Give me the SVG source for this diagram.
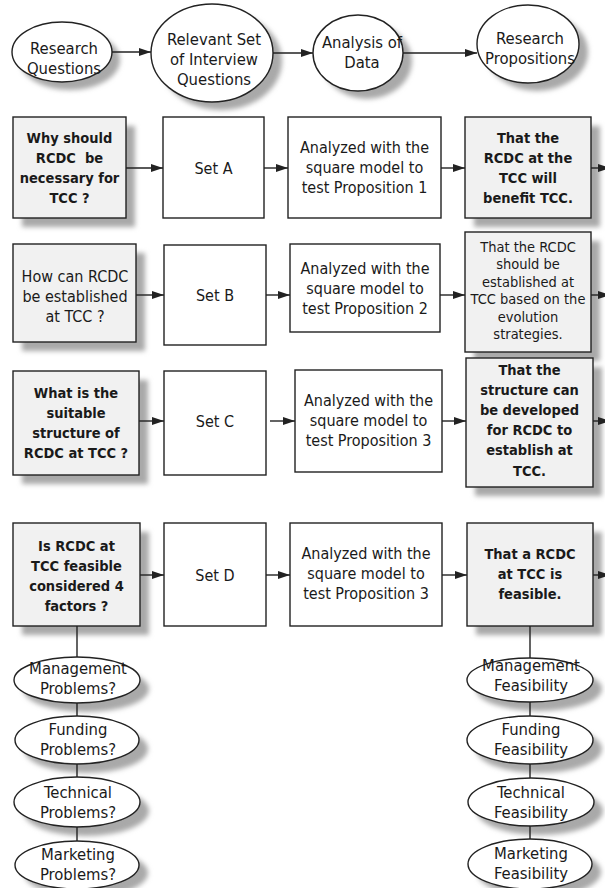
<svg xmlns="http://www.w3.org/2000/svg" width="605" height="888" viewBox="0 0 605 888">
  <style>
    .box { fill: #ffffff; stroke: #222222; stroke-width: 1.4; }
    .boxg { fill: #f1f1f1; stroke: #222222; stroke-width: 1.4; }
    .ell { fill: #ffffff; stroke: #222222; stroke-width: 1.4; }
    .sh { fill: #a9a9a9; }
    .conn { stroke: #222222; stroke-width: 1.4; fill: none; }
    .arr { marker-end: url(#head); }
    text { font-family: "DejaVu Sans Condensed", "DejaVu Sans", "Liberation Sans", sans-serif; font-stretch: condensed; fill: #1a1a1a; text-anchor: middle; }
    .t { font-size: 16px; }
    .b { font-size: 14.5px; font-weight: bold; }
    .h { font-size: 16.5px; }
    .s { font-size: 14.5px; }
  </style>
  <defs>
    <filter id="soft" x="-30%" y="-30%" width="160%" height="160%">
      <feGaussianBlur stdDeviation="2.6"/>
    </filter>
    <marker id="head" markerUnits="userSpaceOnUse" markerWidth="13" markerHeight="9" refX="12" refY="4" orient="auto">
      <path d="M0,0 L12,4 L0,8 z" fill="#222222"/>
    </marker>
  </defs>

  <rect width="605" height="888" fill="#ffffff"/>

  <!-- drop shadows behind the shaded nodes -->
  <g id="shadows" filter="url(#soft)">
    <ellipse class="sh" cx="70" cy="60" rx="50" ry="30"/>
    <ellipse class="sh" cx="221" cy="61" rx="61" ry="49"/>
    <ellipse class="sh" cx="367" cy="61" rx="45" ry="38"/>
    <ellipse class="sh" cx="537" cy="52" rx="51" ry="39"/>
    <rect class="sh" x="22" y="126" width="113" height="101"/>
    <rect class="sh" x="474" y="126" width="126" height="101"/>
    <rect class="sh" x="22" y="253" width="123" height="98"/>
    <rect class="sh" x="474" y="241" width="126" height="120"/>
    <rect class="sh" x="22" y="380" width="126" height="104"/>
    <rect class="sh" x="475" y="367" width="127" height="129"/>
    <rect class="sh" x="22" y="532" width="127" height="103"/>
    <rect class="sh" x="476" y="532" width="126" height="103"/>
    <ellipse class="sh" cx="86" cy="689" rx="63" ry="23"/>
    <ellipse class="sh" cx="86" cy="749" rx="62" ry="24"/>
    <ellipse class="sh" cx="86" cy="811" rx="63" ry="25"/>
    <ellipse class="sh" cx="86" cy="873" rx="62" ry="24"/>
    <ellipse class="sh" cx="539" cy="689" rx="63" ry="22"/>
    <ellipse class="sh" cx="539" cy="749" rx="63" ry="24"/>
    <ellipse class="sh" cx="540" cy="811" rx="63" ry="24"/>
    <ellipse class="sh" cx="539" cy="872" rx="62" ry="25"/>
  </g>

  <!-- header process ellipses -->
  <g id="hdr-research-questions">
    <ellipse class="ell" cx="62" cy="52" rx="50" ry="30"/>
    <text class="h" x="64" y="54">Research</text>
    <text class="h" x="64" y="74">Questions</text>
  </g>
  <g id="hdr-interview-questions">
    <ellipse class="ell" cx="212" cy="53" rx="61" ry="49"/>
    <text class="h" x="214" y="45">Relevant Set</text>
    <text class="h" x="214" y="65">of Interview</text>
    <text class="h" x="214" y="85">Questions</text>
  </g>
  <g id="hdr-analysis">
    <ellipse class="ell" cx="358" cy="53" rx="45" ry="38"/>
    <text class="h" x="362" y="48">Analysis of</text>
    <text class="h" x="362" y="68">Data</text>
  </g>
  <g id="hdr-propositions">
    <ellipse class="ell" cx="528" cy="44" rx="51" ry="39"/>
    <text class="h" x="530" y="44">Research</text>
    <text class="h" x="530" y="64">Propositions</text>
  </g>

  <!-- row A -->
  <g id="q-a">
    <rect class="boxg" x="13" y="117" width="113" height="101"/>
    <text class="b" x="69.5" y="143">Why should</text>
    <text class="b" x="69.5" y="163" xml:space="preserve">RCDC  be</text>
    <text class="b" x="69.5" y="183">necessary for</text>
    <text class="b" x="69.5" y="203">TCC ?</text>
  </g>
  <g id="set-a">
    <rect class="box" x="163" y="117" width="101" height="101"/>
    <text class="t" x="213.5" y="174">Set A</text>
  </g>
  <g id="analysis-a">
    <rect class="box" x="288" y="117" width="153" height="101"/>
    <text class="t" x="364.5" y="153">Analyzed with the</text>
    <text class="t" x="364.5" y="173">square model to</text>
    <text class="t" x="364.5" y="193">test Proposition 1</text>
  </g>
  <g id="prop-a">
    <rect class="boxg" x="465" y="117" width="126" height="101"/>
    <text class="b" x="528" y="143">That the</text>
    <text class="b" x="528" y="163">RCDC at the</text>
    <text class="b" x="528" y="183">TCC will</text>
    <text class="b" x="528" y="203">benefit TCC.</text>
  </g>

  <!-- row B -->
  <g id="q-b">
    <rect class="boxg" x="13" y="244" width="123" height="98"/>
    <text class="t" x="75" y="282">How can RCDC</text>
    <text class="t" x="75" y="302">be established</text>
    <text class="t" x="75" y="322">at TCC ?</text>
  </g>
  <g id="set-b">
    <rect class="box" x="164" y="245" width="102" height="100"/>
    <text class="t" x="215" y="301">Set B</text>
  </g>
  <g id="analysis-b">
    <rect class="box" x="290" y="244" width="150" height="88"/>
    <text class="t" x="365" y="274">Analyzed with the</text>
    <text class="t" x="365" y="294">square model to</text>
    <text class="t" x="365" y="314">test Proposition 2</text>
  </g>
  <g id="prop-b">
    <rect class="boxg" x="465" y="232" width="126" height="120"/>
    <text class="s" x="528" y="252">That the RCDC</text>
    <text class="s" x="528" y="269">should be</text>
    <text class="s" x="528" y="287">established at</text>
    <text class="s" x="528" y="304">TCC based on the</text>
    <text class="s" x="528" y="322">evolution</text>
    <text class="s" x="528" y="339">strategies.</text>
  </g>

  <!-- row C -->
  <g id="q-c">
    <rect class="boxg" x="13" y="371" width="126" height="104"/>
    <text class="b" x="76" y="398">What is the</text>
    <text class="b" x="76" y="418">suitable</text>
    <text class="b" x="76" y="438">structure of</text>
    <text class="b" x="76" y="458">RCDC at TCC ?</text>
  </g>
  <g id="set-c">
    <rect class="box" x="164" y="371" width="102" height="104"/>
    <text class="t" x="215" y="427">Set C</text>
  </g>
  <g id="analysis-c">
    <rect class="box" x="295" y="370" width="147" height="102"/>
    <text class="t" x="368.5" y="406">Analyzed with the</text>
    <text class="t" x="368.5" y="426">square model to</text>
    <text class="t" x="368.5" y="446">test Proposition 3</text>
  </g>
  <g id="prop-c">
    <rect class="boxg" x="466" y="358" width="127" height="129"/>
    <text class="b" x="529.5" y="375">That the</text>
    <text class="b" x="529.5" y="395">structure can</text>
    <text class="b" x="529.5" y="415">be developed</text>
    <text class="b" x="529.5" y="435">for RCDC to</text>
    <text class="b" x="529.5" y="455">establish at</text>
    <text class="b" x="529.5" y="476">TCC.</text>
  </g>

  <!-- row D -->
  <g id="q-d">
    <rect class="boxg" x="13" y="523" width="127" height="103"/>
    <text class="b" x="76.5" y="551">Is RCDC at</text>
    <text class="b" x="76.5" y="571">TCC feasible</text>
    <text class="b" x="76.5" y="591">considered 4</text>
    <text class="b" x="76.5" y="611">factors ?</text>
  </g>
  <g id="set-d">
    <rect class="box" x="164" y="523" width="102" height="103"/>
    <text class="t" x="215" y="581">Set D</text>
  </g>
  <g id="analysis-d">
    <rect class="box" x="290" y="523" width="152" height="103"/>
    <text class="t" x="366" y="559">Analyzed with the</text>
    <text class="t" x="366" y="579">square model to</text>
    <text class="t" x="366" y="599">test Proposition 3</text>
  </g>
  <g id="prop-d">
    <rect class="boxg" x="467" y="523" width="126" height="103"/>
    <text class="b" x="530" y="559">That a RCDC</text>
    <text class="b" x="530" y="579">at TCC is</text>
    <text class="b" x="530" y="599">feasible.</text>
  </g>

  <!-- connectors -->
  <g id="connectors">
    <line class="conn arr" x1="112" y1="52" x2="151" y2="52"/>
    <line class="conn arr" x1="273" y1="53" x2="313" y2="53"/>
    <line class="conn arr" x1="403" y1="53" x2="477" y2="53"/>

    <line class="conn arr" x1="126" y1="168" x2="163" y2="168"/>
    <line class="conn arr" x1="264" y1="168" x2="288" y2="168"/>
    <line class="conn arr" x1="441" y1="168" x2="465" y2="168"/>
    <line class="conn arr" x1="591" y1="168" x2="610" y2="168"/>

    <line class="conn arr" x1="136" y1="295" x2="164" y2="295"/>
    <line class="conn arr" x1="266" y1="295" x2="290" y2="295"/>
    <line class="conn arr" x1="440" y1="295" x2="465" y2="295"/>
    <line class="conn arr" x1="591" y1="295" x2="610" y2="295"/>

    <line class="conn arr" x1="139" y1="421" x2="164" y2="421"/>
    <line class="conn arr" x1="270" y1="421" x2="295" y2="421"/>
    <line class="conn arr" x1="442" y1="421" x2="466" y2="421"/>
    <line class="conn arr" x1="593" y1="421" x2="610" y2="421"/>

    <line class="conn arr" x1="140" y1="575" x2="164" y2="575"/>
    <line class="conn arr" x1="266" y1="575" x2="290" y2="575"/>
    <line class="conn arr" x1="442" y1="575" x2="467" y2="575"/>
    <line class="conn arr" x1="593" y1="575" x2="610" y2="575"/>

    <line class="conn" x1="77" y1="626" x2="77" y2="657"/>
    <line class="conn" x1="77" y1="703" x2="77" y2="716"/>
    <line class="conn" x1="77" y1="764" x2="77" y2="777"/>
    <line class="conn" x1="77" y1="827" x2="77" y2="841"/>

    <line class="conn" x1="530" y1="626" x2="530" y2="658"/>
    <line class="conn" x1="530" y1="702" x2="530" y2="716"/>
    <line class="conn" x1="530" y1="764" x2="530" y2="778"/>
    <line class="conn" x1="530" y1="826" x2="530" y2="839"/>
  </g>

  <!-- problem factors -->
  <g id="mgmt-problems">
    <ellipse class="ell" cx="77" cy="680" rx="63" ry="23"/>
    <text class="h" x="78" y="674">Management</text>
    <text class="h" x="78" y="694">Problems?</text>
  </g>
  <g id="funding-problems">
    <ellipse class="ell" cx="77" cy="740" rx="62" ry="24"/>
    <text class="h" x="78" y="735">Funding</text>
    <text class="h" x="78" y="755">Problems?</text>
  </g>
  <g id="technical-problems">
    <ellipse class="ell" cx="77" cy="802" rx="63" ry="25"/>
    <text class="h" x="78" y="798">Technical</text>
    <text class="h" x="78" y="818">Problems?</text>
  </g>
  <g id="marketing-problems">
    <ellipse class="ell" cx="77" cy="865" rx="62" ry="24"/>
    <text class="h" x="78" y="860">Marketing</text>
    <text class="h" x="78" y="880">Problems?</text>
  </g>

  <!-- feasibility factors -->
  <g id="mgmt-feasibility">
    <ellipse class="ell" cx="530" cy="680" rx="63" ry="22"/>
    <text class="h" x="531" y="671">Management</text>
    <text class="h" x="531" y="691">Feasibility</text>
  </g>
  <g id="funding-feasibility">
    <ellipse class="ell" cx="530" cy="740" rx="63" ry="24"/>
    <text class="h" x="531" y="735">Funding</text>
    <text class="h" x="531" y="755">Feasibility</text>
  </g>
  <g id="technical-feasibility">
    <ellipse class="ell" cx="531" cy="802" rx="63" ry="24"/>
    <text class="h" x="531" y="798">Technical</text>
    <text class="h" x="531" y="818">Feasibility</text>
  </g>
  <g id="marketing-feasibility">
    <ellipse class="ell" cx="530" cy="864" rx="62" ry="25"/>
    <text class="h" x="531" y="859">Marketing</text>
    <text class="h" x="531" y="879">Feasibility</text>
  </g>
</svg>
